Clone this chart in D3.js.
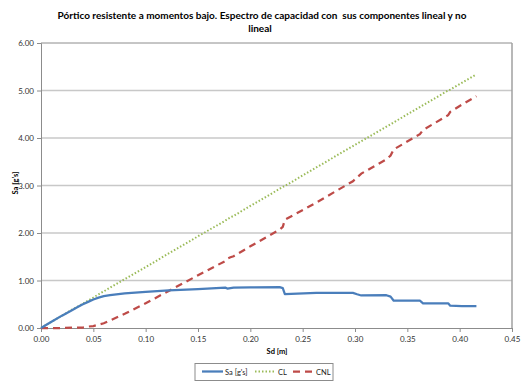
<!DOCTYPE html>
<html><head><meta charset="utf-8">
<script src="https://cdn.jsdelivr.net/npm/d3@7/dist/d3.min.js"></script>
<style>body{margin:0;background:#fff}svg{display:block}</style>
</head><body>
<script>
const sd = [0,0.01,0.02,0.03,0.035,0.04,0.045,0.05,0.055,0.06,0.066,0.08,0.1,0.122,0.15,0.176,0.178,0.181,0.184,0.2,0.228,0.231,0.233,0.263,0.298,0.302,0.306,0.33,0.334,0.337,0.362,0.365,0.389,0.391,0.402,0.416];
const saValues  = [0,0.13,0.26,0.38,0.44,0.50,0.55,0.60,0.64,0.67,0.69,0.73,0.76,0.79,0.82,0.85,0.83,0.84,0.85,0.855,0.86,0.84,0.715,0.74,0.74,0.71,0.685,0.69,0.66,0.575,0.575,0.52,0.52,0.47,0.46,0.46];
const clValues  = [0,0.13,0.26,0.39,0.45,0.51,0.58,0.64,0.71,0.77,0.85,1.03,1.28,1.57,1.93,2.26,2.29,2.33,2.36,2.57,2.93,2.97,2.99,3.38,3.83,3.88,3.93,4.24,4.29,4.33,4.65,4.69,5.0,5.02,5.16,5.34];
const cnlValues = [0,0,0,0.01,0.01,0.01,0.03,0.04,0.07,0.10,0.16,0.30,0.52,0.78,1.11,1.41,1.46,1.49,1.51,1.72,2.07,2.13,2.28,2.64,3.09,3.17,3.25,3.55,3.63,3.76,4.08,4.17,4.48,4.55,4.70,4.88];
const xTicks = [0,0.05,0.1,0.15,0.2,0.25,0.3,0.35,0.4,0.45];
const yTicks = [0,1,2,3,4,5,6];
const seriesNames = ["Sa [g's]","CL","CNL"];
const colors = ["#4a7ebb","#9bbb59","#be4b48"];

const W=528,H=384;
const L=41,R=512,T=43,B=328;
const svg=d3.select("body").append("svg").attr("width",W).attr("height",H);
const x=d3.scaleLinear().domain([0,0.45]).range([L,R]);
const y=d3.scaleLinear().domain([0,6]).range([B,T]);
const font="Lato, 'Open Sans', 'Liberation Sans', sans-serif";

// gridlines
svg.append("g").selectAll("line").data(yTicks.filter(d=>d>0&&d<6)).join("line")
  .attr("x1",L).attr("x2",R).attr("y1",d=>y(d)).attr("y2",d=>y(d))
  .attr("stroke","#c8c8c8").attr("stroke-width",1.5);
// plot border top/right
svg.append("line").attr("x1",L).attr("x2",R).attr("y1",T).attr("y2",T).attr("stroke","#8c8c8c").attr("stroke-width",1);
svg.append("line").attr("x1",R).attr("x2",R).attr("y1",T).attr("y2",B).attr("stroke","#a0a0a0").attr("stroke-width",1.5);

// axes
const yAxis=d3.axisLeft(y).tickValues(yTicks).tickFormat(d3.format(".2f")).tickSize(4).tickPadding(3);
const xAxis=d3.axisBottom(x).tickValues(xTicks).tickFormat(d3.format(".2f")).tickSize(4).tickPadding(4);
const gy=svg.append("g").attr("transform",`translate(${L},0)`).call(yAxis);
const gx=svg.append("g").attr("transform",`translate(0,${B})`).call(xAxis);
[gx,gy].forEach(g=>{
  g.select(".domain").attr("stroke","#8c8c8c");
  g.selectAll(".tick line").attr("stroke","#8c8c8c");
  g.selectAll("text").attr("font-family",font).attr("font-size",8).attr("fill","#333");
});

// lines
const pts=vals=>sd.map((d,i)=>[d,vals[i]]);
const line=d3.line().x(d=>x(d[0])).y(d=>y(d[1]));
svg.append("path").attr("d",line(pts(clValues))).attr("fill","none").attr("stroke",colors[1]).attr("stroke-width",2).attr("stroke-dasharray","1.5,2");
svg.append("path").attr("d",line(pts(cnlValues))).attr("fill","none").attr("stroke",colors[2]).attr("stroke-width",2.25).attr("stroke-dasharray","7,5");
svg.append("path").attr("d",line(pts(saValues))).attr("fill","none").attr("stroke",colors[0]).attr("stroke-width",2.25).attr("stroke-linejoin","round");

// title
svg.append("text").attr("x",262).attr("y",19).attr("text-anchor","middle").attr("font-family",font)
  .attr("font-weight","bold").attr("font-size",10).style("white-space","pre")
  .text("Pórtico resistente a momentos bajo. Espectro de capacidad con  sus componentes lineal y no");
svg.append("text").attr("x",260).attr("y",32).attr("text-anchor","middle").attr("font-family",font)
  .attr("font-weight","bold").attr("font-size",10).text("lineal");

// axis titles
svg.append("text").attr("x",277).attr("y",354).attr("text-anchor","middle").attr("font-family",font)
  .attr("font-weight","bold").attr("font-size",7.5).text("Sd [m]");
svg.append("text").attr("transform","translate(17.5,183) rotate(-90)").attr("text-anchor","middle").attr("font-family",font)
  .attr("font-weight","bold").attr("font-size",7.5).text("Sa [g's]");

// legend
const lg=svg.append("g");
lg.append("rect").attr("x",195).attr("y",363.5).attr("width",138).attr("height",17).attr("fill","#fff").attr("stroke","#8c8c8c").attr("stroke-width",1);
const items=[{x1:202,x2:223,tx:225,dash:null,w:2.25},{x1:255,x2:275,tx:278,dash:"1.5,2",w:2},{x1:293,x2:312,tx:316,dash:"7,5",w:2.25}];
items.forEach((it,i)=>{
  const l=lg.append("line").attr("x1",it.x1).attr("x2",it.x2).attr("y1",371.5).attr("y2",371.5).attr("stroke",colors[i]).attr("stroke-width",it.w);
  if(it.dash) l.attr("stroke-dasharray",it.dash);
  lg.append("text").attr("x",it.tx).attr("y",374.5).attr("font-family",font).attr("font-size",7.5).attr("fill","#222").text(seriesNames[i]);
});
</script>
</body></html>
